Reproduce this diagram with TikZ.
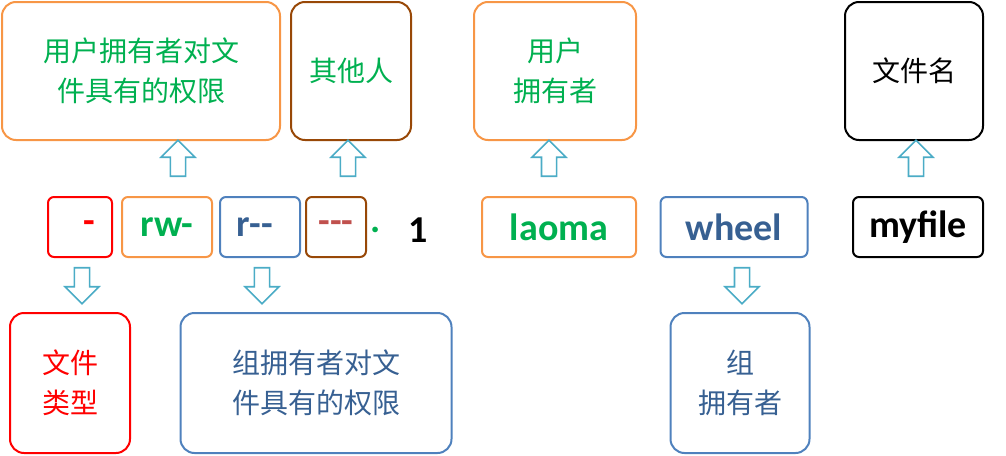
\documentclass[tikz,border=0pt]{standalone}
\usepackage{fontspec}
\setmainfont{Carlito}
\newfontfamily\cjk{Noto Sans CJK SC}
\usetikzlibrary{shapes.arrows}
\definecolor{orng}{HTML}{F79646}
\definecolor{grn}{HTML}{00B050}
\definecolor{brwn}{HTML}{984807}
\definecolor{blu}{HTML}{4F81BD}
\definecolor{dblu}{HTML}{376092}
\definecolor{dred}{HTML}{C0504D}
\definecolor{lblu}{HTML}{4BACC6}
\tikzset{
  big/.style={draw=#1, line width=2pt, rounded corners=14pt, align=center, inner sep=0pt, font=\cjk\fontsize{28}{40}\selectfont},
  small/.style={draw=#1, line width=2pt, rounded corners=6pt, inner sep=0pt, font=\bfseries\fontsize{38}{38}\selectfont},
  hollow/.style={single arrow, draw=lblu, line width=1.6pt, fill=white, minimum height=36pt,
    minimum width=34pt, single arrow head extend=6pt, inner sep=4pt, shape border rotate=#1}
}
\begin{document}
\begin{tikzpicture}[x=1pt,y=-1pt]
	\useasboundingbox (0,0) rectangle (1006,455);
	%Top boxes
	\node [big=orng, text=grn, minimum width=278pt, minimum height=138pt] (uperm) at (141,71) {用户拥有者对文\\件具有的权限};
	\node [big=brwn, text=grn, minimum width=120pt, minimum height=138pt] (other) at (351,71) {其他人};
	\node [big=orng, text=grn, minimum width=162pt, minimum height=138pt] (owner) at (555,71) {用户\\拥有者};
	\node [big=black, minimum width=138pt, minimum height=138pt] (fname) at (914,71) {文件名};
	%Middle row
	\node [small=red, text=red, minimum width=64pt, minimum height=60pt] (type) at (80,227) {\hspace*{18pt}-};
	\node [small=orng, text=grn, minimum width=90pt, minimum height=60pt] (rwu) at (167,227) {rw-};
	\node [small=blu, text=dblu, minimum width=80pt, minimum height=60pt] (rwg) at (260,227) {r-{}-\hspace*{10pt}};
	\node [small=brwn, text=dred, minimum width=60pt, minimum height=60pt] (rwo) at (336,227) {-{}-{}-};
	\node [text=grn, font=\bfseries\fontsize{38}{38}\selectfont] (dot) at (376,230) {.};
	\node [font=\bfseries\fontsize{38}{38}\selectfont] (links) at (418,230) {1};
	\node [small=orng, text=grn, minimum width=154pt, minimum height=60pt] (user) at (559,227) {laoma};
	\node [small=blu, text=dblu, minimum width=147pt, minimum height=60pt] (group) at (734,227) {wheel};
	\node [small=black, minimum width=130pt, minimum height=60pt] (file) at (918,227) {myfile};
	%Bottom boxes
	\node [big=red, text=red, minimum width=120pt, minimum height=140pt] (ftype) at (70,383) {文件\\类型};
	\node [big=blu, text=dblu, minimum width=271pt, minimum height=140pt] (gperm) at (316,383) {组拥有者对文\\件具有的权限};
	\node [big=blu, text=dblu, minimum width=139pt, minimum height=140pt] (gowner) at (740,383) {组\\拥有者};
	%Arrows
	\node [hollow=90] (a1) at (178,162) {};
	\node [hollow=90] (a2) at (348,162) {};
	\node [hollow=90] (a3) at (549,162) {};
	\node [hollow=90] (a4) at (916,162) {};
	\node [hollow=270] (a5) at (82,282) {};
	\node [hollow=270] (a6) at (262,282) {};
	\node [hollow=270] (a7) at (742,282) {};
\end{tikzpicture}
\end{document}
